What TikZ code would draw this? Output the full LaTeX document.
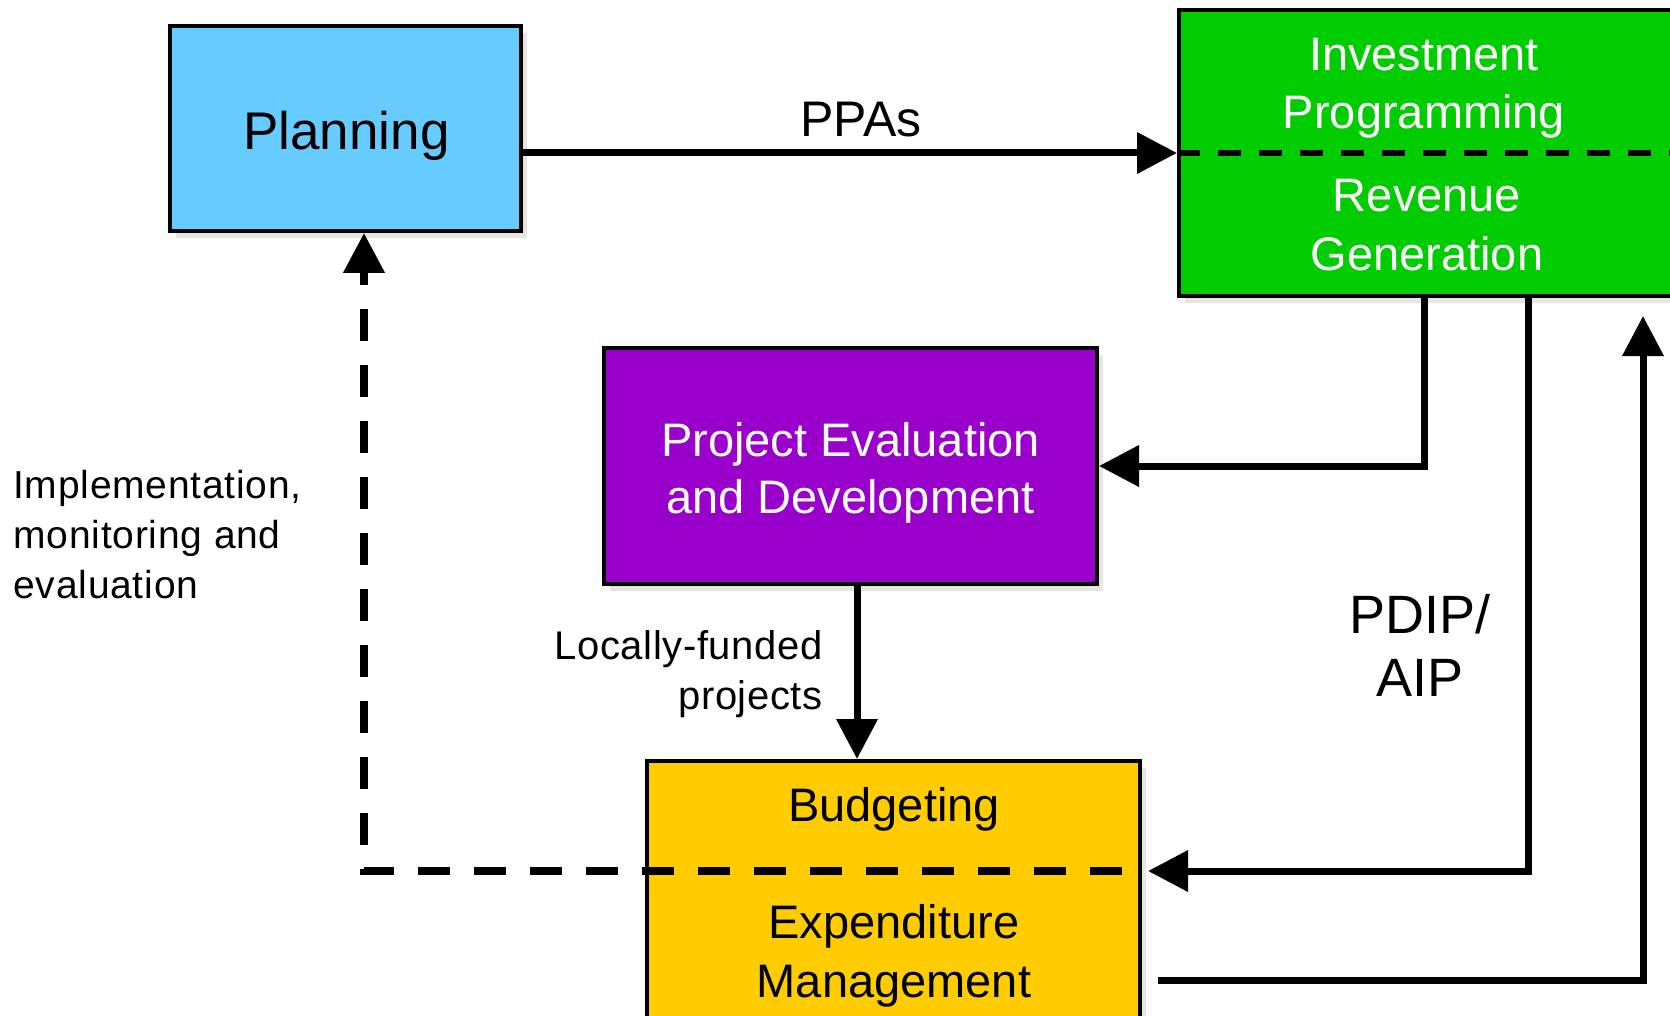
\documentclass[tikz,border=0pt]{standalone}
\usepackage{fontspec}
\setmainfont{Liberation Sans}
\usetikzlibrary{arrows.meta,shadows,calc}
\definecolor{planblue}{HTML}{66CCFF}
\definecolor{invgreen}{HTML}{00CC00}
\definecolor{evalpurple}{HTML}{9900CC}
\definecolor{budyellow}{HTML}{FFCC00}
\definecolor{shadowc}{RGB}{230,230,220}
\begin{document}
\begin{tikzpicture}[x=0.5pt,y=-0.5pt,
  box/.style={draw=black, line width=2pt, rectangle, inner sep=0pt,
    drop shadow={shadow xshift=3pt, shadow yshift=-3.5pt, fill=shadowc, opacity=1}},
  boxtext/.style={inner sep=0pt, align=center},
  lab/.style={inner sep=0pt, text=black},
  conn/.style={line width=3.5pt, -{Triangle[length=20pt,width=20pt]}},
  dconn/.style={line width=3.8pt, dash pattern=on 16pt off 12pt, dash phase=18pt, -{Triangle[length=20pt,width=20pt]}},
  divider/.style={line width=3.4pt}
]
\clip (0,0) rectangle (1670,1016);
\fill[white] (0,0) rectangle (1670,1016);

% boxes
\node[box, fill=planblue, minimum width=175.5pt, minimum height=102.5pt] (plan) at (345.5,128.5) {};
\node[box, fill=invgreen, minimum width=248pt, minimum height=143pt] (green) at (1427,153) {};
\node[box, fill=evalpurple, minimum width=246.5pt, minimum height=118pt] (purple) at (850.5,466) {};
\node[box, fill=budyellow, minimum width=246.5pt, minimum height=134.5pt] (yellow) at (893.5,895.5) {};

% helper coordinates
\coordinate (xa) at (1424,0);
\coordinate (xb) at (1528,0);
\coordinate (xc) at (1643,0);
\coordinate (xd) at (364,0);
\coordinate (xe) at (857,0);
\coordinate (ydiv) at (0,871);
\coordinate (yret) at (0,980);

% dividers
\draw[divider, dash pattern=on 11.5pt off 9pt] (green.west) -- (green.east);

% connectors
\draw[conn] (plan.east |- green.west) -- (green.west);
\draw[conn] (green.south -| xa) |- (purple.east);
\draw[conn] (green.south -| xb) |- ($(yellow.east |- ydiv)+(6,0)$);
\draw[conn] ($(yellow.east |- yret)+(16,0)$) -| ($(green.south -| xc)+(0,18)$);
\draw[conn] (purple.south -| xe) -- (yellow.north -| xe);
\draw[dconn] (yellow.east |- ydiv) -| (plan.south -| xd);

% box texts
\node[boxtext, anchor=base, font=\fontsize{26.5pt}{30pt}\selectfont] (plantext) at (346.5,150) {Planning};
\node[boxtext, anchor=north, text=white, font=\fontsize{23.5pt}{29pt}\selectfont] (invtext) at (1424,38) {Investment\\Programming};
\node[boxtext, anchor=north, text=white, font=\fontsize{23.5pt}{29.5pt}\selectfont] (revtext) at (1427,179) {Revenue\\Generation};
\node[boxtext, anchor=north, text=white, font=\fontsize{23.5pt}{28.5pt}\selectfont] (evaltext) at (850.5,422) {Project Evaluation\\and Development};
\node[boxtext, anchor=base, font=\fontsize{23.5pt}{29pt}\selectfont] (budtext) at (894,821) {Budgeting};
\node[boxtext, anchor=north, font=\fontsize{23.5pt}{29.5pt}\selectfont] (exptext) at (894,904) {Expenditure\\Management};

% labels
\node[lab, anchor=base, font=\fontsize{25pt}{30pt}\selectfont] (ppas) at (861,137) {PPAs};
\node[lab, anchor=north, align=center, font=\fontsize{27pt}{31.5pt}\selectfont] (pdip) at (1420,594) {PDIP/\\AIP};
\node[lab, anchor=north west, align=left, font=\fontsize{19.5pt}{25pt}\selectfont\addfontfeature{LetterSpace=2}] (impl) at (13,470) {Implementation,\\monitoring and\\evaluation};
\node[lab, anchor=north east, align=right, font=\fontsize{20pt}{25pt}\selectfont\addfontfeature{LetterSpace=1.5}] (local) at (823,630) {Locally-funded\\projects};
\end{tikzpicture}
\end{document}
